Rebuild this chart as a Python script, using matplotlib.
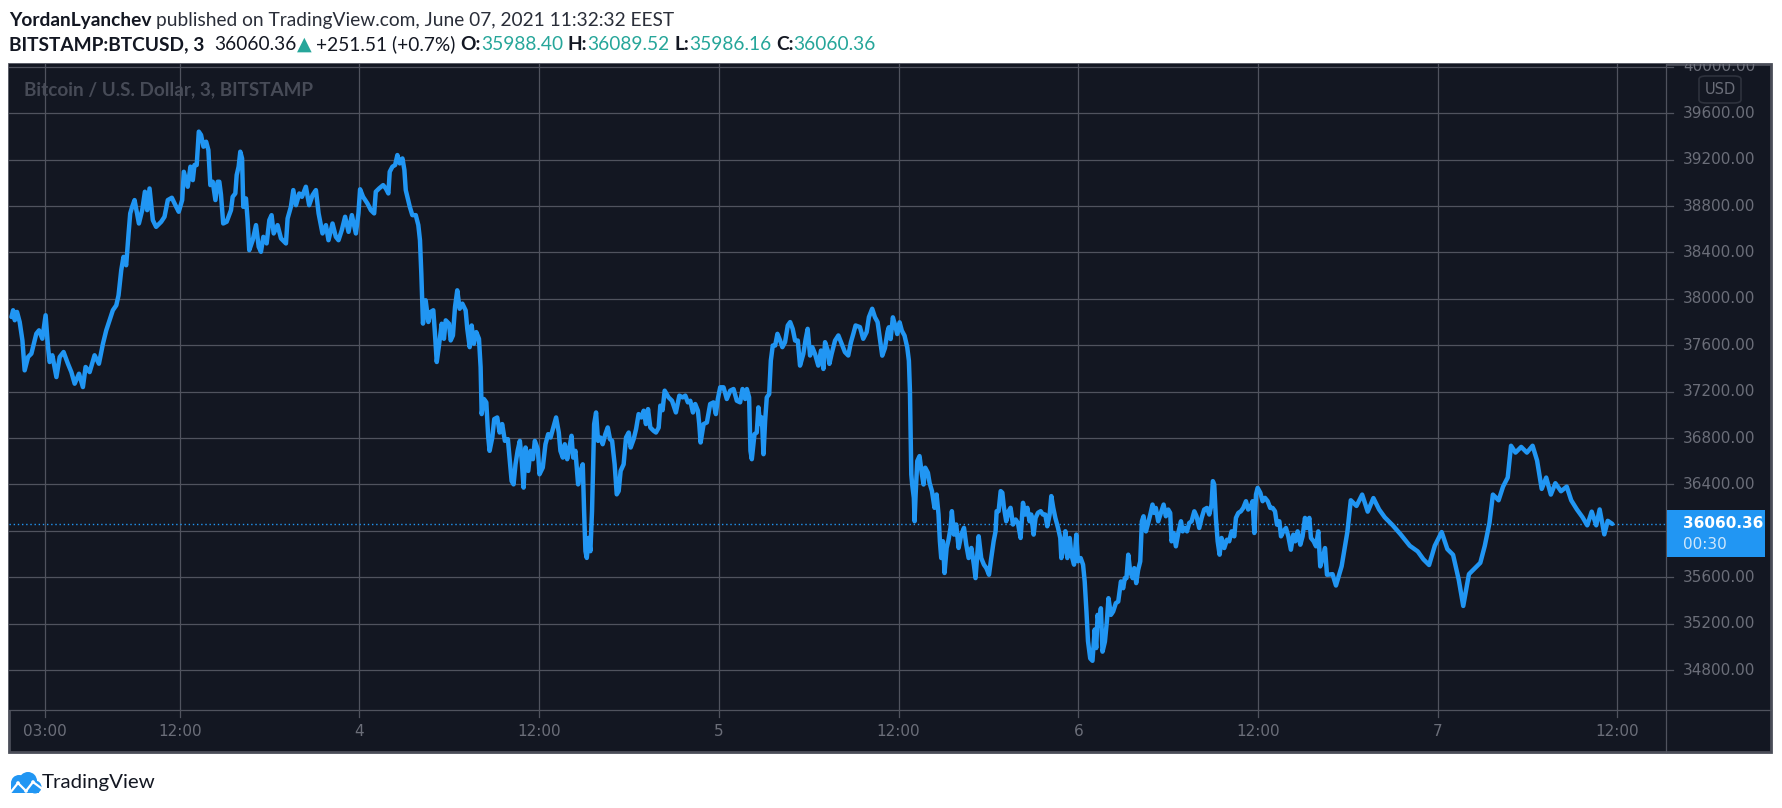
import matplotlib
matplotlib.use("Agg")
import matplotlib.pyplot as plt
from matplotlib.patches import Rectangle, FancyBboxPatch, Circle
from matplotlib.lines import Line2D
from matplotlib.transforms import blended_transform_factory
from matplotlib.font_manager import FontProperties

# ---------------- data (hours since June 3, 00:00 EEST ; BTC/USD price) ----------------
hours = [
    0.76, 0.87, 0.98, 1.13, 1.31, 1.49, 1.64, 1.87, 2.09, 2.42, 2.6, 2.82, 3.04, 3.2, 3.31, 3.49,
    3.76, 3.98, 4.24, 4.53, 4.76, 4.98, 5.27, 5.53, 5.71, 5.98, 6.31, 6.6, 6.87, 7.09, 7.31, 7.53,
    7.76, 7.91, 8.09, 8.24, 8.42, 8.58, 8.69, 8.82, 8.98, 9.27, 9.49, 9.67, 9.82, 9.98, 10.2, 10.42,
    10.76, 10.98, 11.2, 11.47, 11.76, 11.93, 12.16, 12.27, 12.53, 12.71, 12.87, 12.98, 13.13, 13.27,
    13.42, 13.58, 13.76, 13.91, 14.04, 14.2, 14.38, 14.53, 14.64, 14.75, 14.9, 15.13, 15.42, 15.53,
    15.71, 15.8, 15.93, 16.04, 16.16, 16.24, 16.42, 16.53, 16.64, 16.87, 17.09, 17.27, 17.42, 17.58,
    17.8, 17.98, 18.13, 18.27, 18.53, 18.76, 19.09, 19.2, 19.42, 19.58, 19.76, 19.98, 20.16, 20.42,
    20.64, 20.87, 21.09, 21.27, 21.53, 21.76, 21.93, 22.2, 22.42, 22.6, 22.82, 23.04, 23.27, 23.49,
    23.76, 23.93, 24.04, 24.24, 24.53, 24.76, 24.98, 25.09, 25.31, 25.58, 25.76, 25.93, 26.02, 26.2,
    26.38, 26.53, 26.69, 26.87, 27.0, 27.09, 27.2, 27.36, 27.53, 27.76, 27.93, 28.04, 28.13, 28.24,
    28.42, 28.6, 28.76, 28.93, 29.04, 29.16, 29.31, 29.49, 29.64, 29.76, 29.98, 30.09, 30.24, 30.38,
    30.53, 30.69, 30.87, 31.09, 31.2, 31.36, 31.49, 31.64, 31.8, 31.98, 32.09, 32.16, 32.31, 32.47,
    32.6, 32.69, 32.87, 33.0, 33.2, 33.36, 33.53, 33.71, 33.91, 34.02, 34.16, 34.29, 34.42, 34.56,
    34.71, 34.82, 34.96, 35.09, 35.27, 35.42, 35.58, 35.71, 35.91, 36.02, 36.24, 36.42, 36.6, 36.76,
    36.98, 37.13, 37.31, 37.42, 37.58, 37.71, 37.87, 38.02, 38.16, 38.27, 38.42, 38.6, 38.76, 38.91,
    39.0, 39.09, 39.18, 39.31, 39.42, 39.53, 39.67, 39.8, 39.93, 40.09, 40.24, 40.42, 40.58, 40.73,
    40.87, 41.04, 41.18, 41.31, 41.44, 41.64, 41.8, 41.98, 42.11, 42.31, 42.47, 42.64, 42.82, 42.98,
    43.13, 43.27, 43.42, 43.64, 43.8, 43.98, 44.09, 44.24, 44.38, 44.64, 44.87, 45.13, 45.36, 45.58,
    45.76, 45.93, 46.09, 46.27, 46.42, 46.6, 46.69, 46.78, 46.98, 47.2, 47.42, 47.64, 47.8, 47.93,
    48.09, 48.31, 48.53, 48.76, 48.98, 49.2, 49.42, 49.58, 49.76, 49.87, 50.02, 50.11, 50.2, 50.38,
    50.53, 50.64, 50.76, 50.87, 50.98, 51.09, 51.2, 51.36, 51.47, 51.6, 51.76, 51.91, 52.09, 52.24,
    52.42, 52.6, 52.76, 52.93, 53.09, 53.27, 53.42, 53.64, 53.8, 53.93, 54.09, 54.24, 54.42, 54.64,
    54.82, 54.98, 55.09, 55.27, 55.38, 55.53, 55.76, 55.98, 56.2, 56.42, 56.64, 56.82, 56.98, 57.13,
    57.42, 57.64, 57.87, 58.02, 58.24, 58.42, 58.6, 58.76, 58.91, 59.09, 59.27, 59.35, 59.47, 59.62,
    59.78, 59.91, 60.07, 60.22, 60.4, 60.58, 60.69, 60.76, 60.8, 60.85, 60.91, 61.02, 61.07, 61.14,
    61.25, 61.4, 61.56, 61.67, 61.78, 61.96, 62.07, 62.23, 62.4, 62.54, 62.67, 62.76, 62.85, 62.96,
    63.07, 63.21, 63.34, 63.47, 63.56, 63.7, 63.85, 64.01, 64.19, 64.37, 64.52, 64.68, 64.86, 65.03,
    65.14, 65.26, 65.35, 65.52, 65.7, 65.86, 66.04, 66.19, 66.35, 66.48, 66.55, 66.68, 66.82, 66.93,
    67.04, 67.19, 67.35, 67.48, 67.64, 67.82, 67.97, 68.15, 68.31, 68.46, 68.6, 68.75, 68.86, 69.02,
    69.15, 69.31, 69.49, 69.64, 69.8, 69.93, 70.09, 70.2, 70.33, 70.47, 70.65, 70.8, 70.87, 71.02,
    71.14, 71.27, 71.43, 71.54, 71.72, 71.87, 71.98, 72.16, 72.32, 72.43, 72.55, 72.65, 72.8, 72.95,
    73.1, 73.2, 73.29, 73.4, 73.51, 73.62, 73.78, 73.91, 74.02, 74.18, 74.33, 74.51, 74.67, 74.85,
    75.0, 75.11, 75.22, 75.34, 75.47, 75.63, 75.74, 75.87, 76.0, 76.14, 76.25, 76.36, 76.52, 76.67,
    76.81, 76.96, 77.07, 77.18, 77.34, 77.52, 77.7, 77.85, 78.01, 78.14, 78.23, 78.37, 78.52, 78.68,
    78.86, 78.97, 79.12, 79.26, 79.41, 79.57, 79.75, 79.9, 80.08, 80.24, 80.41, 80.59, 80.75, 80.9,
    80.99, 81.08, 81.19, 81.31, 81.44, 81.57, 81.75, 81.93, 82.08, 82.24, 82.42, 82.53, 82.69, 82.86,
    83.02, 83.2, 83.35, 83.53, 83.64, 83.76, 83.87, 83.98, 84.16, 84.31, 84.47, 84.65, 84.82, 84.98,
    85.14, 85.27, 85.43, 85.54, 85.69, 85.87, 86.03, 86.2, 86.36, 86.49, 86.65, 86.83, 86.98, 87.14,
    87.27, 87.43, 87.54, 87.72, 87.88, 88.03, 88.16, 88.32, 88.48, 88.61, 88.98, 89.21, 89.59, 89.97,
    90.2, 90.58, 90.96, 91.33, 91.71, 92.09, 92.47, 93.0, 93.53, 94.14, 94.67, 95.05, 95.43, 95.81,
    96.27, 96.65, 97.03, 97.41, 97.71, 98.09, 98.47, 98.85, 99.15, 99.46, 99.69, 100.07, 100.37, 100.68,
    100.9, 101.2, 101.58, 101.96, 102.34, 102.64, 102.95, 103.25, 103.56, 103.86, 104.24, 104.62, 104.92, 105.3,
    105.68, 105.99, 106.29, 106.59, 106.82, 107.13, 107.36, 107.66,
]
prices = [
    37844, 37902, 37816, 37888, 37800, 37643, 37384, 37500, 37528, 37700, 37729, 37657, 37859, 37585, 37456, 37514,
    37326, 37499, 37542, 37441, 37369, 37269, 37355, 37240, 37413, 37369, 37514, 37441, 37614, 37729, 37816, 37902,
    37945, 38031, 38247, 38362, 38290, 38564, 38737, 38794, 38852, 38650, 38765, 38924, 38765, 38952, 38679, 38621,
    38665, 38708, 38852, 38872, 38794, 38751, 38852, 39096, 38967, 39140, 39024, 39154, 39154, 39442,
    39413, 39312, 39355, 39283, 38981, 39010, 38852, 39010, 39010, 38900, 38650, 38665, 38765, 38880,
    38909, 39068, 39140, 39269, 39211, 38794, 38866, 38679, 38420, 38506, 38636, 38449, 38406, 38535,
    38478, 38679, 38722, 38564, 38636, 38521, 38478, 38693, 38794, 38938, 38808, 38909, 38880, 38967,
    38808, 38895, 38938, 38737, 38564, 38636, 38506, 38650, 38535, 38506, 38593, 38708, 38578, 38722,
    38564, 38737, 38945, 38880, 38823, 38765, 38737, 38924, 38952, 38981, 38952, 38909, 39096, 39140,
    39154, 39240, 39168, 39211, 39111, 38938, 38880, 38794, 38722, 38722, 38636, 38506, 38218, 37787,
    37988, 37801, 37888, 37902, 37700, 37456, 37600, 37786, 37656, 37815, 37786, 37642, 37685, 37930,
    38074, 37915, 37959, 37901, 37742, 37584, 37771, 37613, 37714, 37656, 37411, 37007, 37137, 37108,
    36805, 36690, 36805, 36964, 36978, 36848, 36921, 36776, 36791, 36632, 36430, 36401, 36574, 36690,
    36776, 36632, 36373, 36719, 36517, 36690, 36618, 36776, 36704, 36488, 36546, 36747, 36834, 36805,
    36906, 36978, 36848, 36690, 36632, 36747, 36618, 36719, 36820, 36632, 36690, 36401, 36517, 36574,
    36171, 35825, 35767, 35940, 35825, 36171, 36920, 37021, 36776, 36805, 36747, 36834, 36892, 36791,
    36776, 36574, 36315, 36344, 36517, 36574, 36805, 36848, 36719, 36791, 36877, 37007, 36978, 37036,
    36921, 37050, 36892, 36863, 36848, 36890, 37080, 37040, 37209, 37151, 37122, 37021, 37166, 37151,
    37166, 37108, 37122, 37021, 37094, 37036, 36921, 36762, 36921, 36935, 37094, 37108, 37007, 37137,
    37238, 37238, 37137, 37209, 37223, 37122, 37108, 37223, 37137, 37223, 37151, 36690, 36618, 36834,
    36848, 37065, 36921, 36978, 36661, 36949, 37151, 37180, 37468, 37598, 37598, 37699, 37641, 37584,
    37627, 37771, 37800, 37742, 37641, 37641, 37425, 37526, 37656, 37742, 37512, 37584, 37526, 37425,
    37555, 37396, 37627, 37555, 37440, 37526, 37641, 37685, 37613, 37541, 37512, 37627, 37699, 37771,
    37757, 37656, 37714, 37843, 37915, 37843, 37800, 37650, 37511, 37576, 37720, 37755, 37654, 37841,
    37769, 37697, 37798, 37726, 37683, 37582, 37467, 37207, 36862, 36487, 36400, 36285, 36083, 36314,
    36602, 36645, 36487, 36400, 36545, 36501, 36415, 36343, 36199, 36314, 36141, 35911, 35766, 35911,
    35637, 35853, 35925, 36026, 36170, 35968, 36055, 35853, 35968, 36026, 35882, 35766, 35853, 35709,
    35593, 35795, 35954, 35766, 35709, 35680, 35622, 35766, 35911, 35997, 36170, 36170, 36343, 36329,
    36199, 36083, 36170, 36199, 36055, 36098, 36069, 35939, 36242, 36141, 36199, 36083, 36141, 35968,
    36112, 36156, 36170, 36141, 36141, 36040, 36141, 36300, 36199, 36112, 36026, 35939, 35766, 35853,
    35997, 35766, 35939, 35795, 35709, 35968, 35738, 35766, 35709, 35565, 35300, 35050, 34900, 34880,
    35150, 34990, 35276, 35189, 35333, 34959, 35045, 35218, 35420, 35276, 35305, 35377, 35391, 35564,
    35506, 35593, 35593, 35795, 35650, 35593, 35679, 35550, 35665, 35737, 36083, 36126, 35996, 36068,
    36141, 36227, 36155, 36198, 36083, 36155, 36227, 36126, 36184, 36155, 35910, 35982, 35867, 35982,
    36083, 35996, 36025, 35996, 36068, 36083, 36169, 36126, 36025, 36112, 36184, 36198, 36141, 36227,
    36429, 36400, 36112, 35910, 35795, 35939, 35852, 35924, 35910, 35996, 35953, 36112, 36155, 36169,
    36198, 36256, 36184, 36213, 36256, 35982, 36314, 36371, 36328, 36256, 36285, 36256, 36198, 36198,
    36169, 36054, 36083, 35953, 35996, 36025, 35953, 35838, 35967, 35910, 35996, 35881, 35953, 36112,
    36025, 36112, 35939, 35910, 35867, 35996, 35694, 35766, 35852, 35622, 35627, 35529, 35696, 35990,
    36264, 36215, 36313, 36166, 36283, 36185, 36117, 36048, 35970, 35872, 35823, 35755, 35706, 35872,
    35990, 35843, 35794, 35578, 35353, 35627, 35676, 35725, 35872, 36068, 36313, 36264, 36382, 36460,
    36734, 36675, 36724, 36675, 36734, 36607, 36362, 36460, 36313, 36411, 36342, 36382, 36264, 36185,
    36117, 36048, 36166, 36048, 36185, 35970, 36087, 36060.36,
]
last_price = 36060.36
countdown = "00:30"
xtick_hours = [3, 12, 24, 36, 48, 60, 72, 84, 96, 108]
xtick_labels = ["03:00", "12:00", "4", "12:00", "5", "12:00", "6", "12:00", "7", "12:00"]
ytick_values = list(range(34800, 40001, 400))
header_user = "YordanLyanchev"
header_rest = "published on TradingView.com, June 07, 2021 11:32:32 EEST"
symbol = "BITSTAMP:BTCUSD, 3"
change_text = "+251.51 (+0.7%)"
ohlc_labels = ["O:", "H:", "L:", "C:"]
ohlc_values = [35988.40, 36089.52, 35986.16, 36060.36]
watermark = "Bitcoin / U.S. Dollar, 3, BITSTAMP"
brand = "TradingView"

# ---------------- figure ----------------
W, H = 1783, 808
fig = plt.figure(figsize=(W / 100, H / 100), dpi=100)
fig.patch.set_facecolor("white")
renderer = fig.canvas.get_renderer()


def X(px):
    return px / W


def Y(py):
    return 1 - py / H


BG = "#131722"
GRID = "#50535e"
TXT = "#6b6e79"
BLUE = "#2196f3"
TEAL = "#26a69a"
DARK = "#131722"

# dark panel
fig.add_artist(Rectangle((X(9), Y(752)), (1771 - 9) / W, (752 - 64) / H,
                         transform=fig.transFigure, facecolor=BG,
                         edgecolor="#4a4d58", lw=2, zorder=0))

x_lo, x_hi = 0.595, 111.25
y_lo, y_hi = 34456, 40025

ax = fig.add_axes([X(9), Y(710), (1666 - 9) / W, (710 - 64) / H])
ax.set_facecolor(BG)
ax.set_xlim(x_lo, x_hi)
ax.set_ylim(y_lo, y_hi)
for s in ax.spines.values():
    s.set_visible(False)
ax.set_xticks(xtick_hours)
ax.set_yticks(ytick_values)
ax.grid(True, color=GRID, lw=0.9, zorder=0)
ax.tick_params(left=False, labelleft=False, bottom=False, labelbottom=False)
ax.plot(hours, prices, color=BLUE, lw=3.2, solid_joinstyle="round",
        solid_capstyle="round", zorder=3)
ax.axhline(last_price, color=BLUE, lw=1.0, ls=(0, (1, 2)), zorder=2)

# separators
fig.add_artist(Line2D([X(1666), X(1666)], [Y(64), Y(752)], transform=fig.transFigure,
                      color=GRID, lw=0.9, zorder=1))
fig.add_artist(Line2D([X(9), X(1771)], [Y(710), Y(710)], transform=fig.transFigure,
                      color=GRID, lw=0.9, zorder=1))

# time axis
bt = blended_transform_factory(ax.transData, fig.transFigure)
for h, lbl in zip(xtick_hours, xtick_labels):
    ax.add_line(Line2D([h, h], [Y(710), Y(717)], transform=bt, color=GRID, lw=0.9,
                       clip_on=False))
    ax.text(h, Y(732), lbl, transform=bt, ha="center", va="center", color=TXT,
            fontsize=11, family="DejaVu Sans", clip_on=False)

# last price label position (pixels from top)
py_last = H - ax.transData.transform((x_lo, last_price))[1]
box_top, box_bot = py_last - 14, py_last + 33

# price axis
axp = fig.add_axes([X(1666), Y(710), (1771 - 1666) / W, (710 - 64) / H])
axp.set_xlim(0, 105)
axp.set_ylim(y_lo, y_hi)
axp.axis("off")
for v in ytick_values:
    axp.plot([0, 7], [v, v], color=GRID, lw=0.9, clip_on=True)
    pv = H - axp.transData.transform((0, v))[1]
    if box_top - 8 < pv < box_bot + 8:
        continue  # hidden under the last-price badge
    axp.text(17, v, f"{v:.2f}", ha="left", va="center", color=TXT, fontsize=11,
             family="DejaVu Sans", clip_on=True)

# USD badge
fig.add_artist(FancyBboxPatch((X(1699), Y(103)), (1741 - 1699) / W, (103 - 76) / H,
                              boxstyle="round,pad=0,rounding_size=0.004",
                              transform=fig.transFigure, facecolor=BG,
                              edgecolor="#2e323d", lw=1.2, zorder=5))
fig.text(X(1720), Y(89.5), "USD", ha="center", va="center", color=TXT, fontsize=10.5,
         family="DejaVu Sans", zorder=6)

# last price badge
fig.add_artist(Rectangle((X(1667), Y(box_bot)), (1765 - 1667) / W, (box_bot - box_top) / H,
                         transform=fig.transFigure, facecolor=BLUE, edgecolor="none",
                         zorder=7))
fig.text(X(1683), Y(py_last), f"{last_price:.2f}", ha="left", va="center", color="white",
         fontsize=11, fontweight="bold", family="DejaVu Sans", zorder=8)
fig.text(X(1683), Y(py_last + 21), countdown, ha="left", va="center", color="#cfe7fb",
         fontsize=11, family="DejaVu Sans", zorder=8)


# ---------------- text runs helpers ----------------
def measure(s, fp):
    w1, _, _ = renderer.get_text_width_height_descent("|" + s + "|", fp, ismath=False)
    w0, _, _ = renderer.get_text_width_height_descent("||", fp, ismath=False)
    return w1 - w0


def draw_runs(runs, x_px, base_px, target_w):
    def fps(size):
        return [FontProperties(family=r[3], weight=r[1], size=size * r[4]) for r in runs]
    tot = sum(measure(r[0], fp) for r, fp in zip(runs, fps(10)))
    size = 10 * target_w / tot
    x = x_px
    for r, fp in zip(runs, fps(size)):
        if r[0].strip():
            fig.text(X(x), Y(base_px), r[0], fontproperties=fp, color=r[2],
                     ha="left", va="baseline", zorder=10)
        x += measure(r[0], fp)


F = "Lato"
draw_runs([(header_user, "bold", DARK, F, 1.0),
           (" ", "normal", DARK, F, 1.0),
           (header_rest, "normal", "#2a2e39", F, 1.0)], 9, 26, 667)

runs2 = [(symbol, "bold", DARK, F, 1.0), ("  ", "normal", DARK, F, 1.0),
         (f"{last_price:.2f}", "normal", DARK, F, 1.0),
         ("\u25B2", "normal", TEAL, "DejaVu Sans", 1.0), (" ", "normal", DARK, F, 1.0),
         (change_text, "normal", DARK, F, 1.0)]
for lab, val in zip(ohlc_labels, ohlc_values):
    runs2 += [(" ", "normal", DARK, F, 1.0), (lab, "bold", DARK, F, 1.0),
              (f"{val:.2f}", "normal", TEAL, F, 1.0)]
draw_runs(runs2, 9, 50, 870)

# watermark
draw_runs([(watermark, "bold", "#474b57", F, 1.0)], 24, 95.5, 290)

# brand logo
draw_runs([(brand, "normal", DARK, F, 1.0)], 42, 788, 114)
axl = fig.add_axes([X(8), Y(796), 34 / W, 28 / H])
axl.set_xlim(0, 34)
axl.set_ylim(0, 28)
axl.axis("off")
for cx, cy, r in [(11, 13, 8), (20, 15, 9), (27, 9, 6.5)]:
    axl.add_patch(Circle((cx, cy), r, color=BLUE, lw=0))
axl.add_patch(Rectangle((3, 3), 28, 9, color=BLUE, lw=0))
axl.plot([2, 10, 18, 25, 33], [3, 13, 5, 14, 8], color="white", lw=1.6)
for px_, py_ in [(10, 13), (18, 5), (25, 14)]:
    axl.add_patch(Circle((px_, py_), 1.8, color="white", lw=0))

fig.savefig("out.png", dpi=100, facecolor="white")
